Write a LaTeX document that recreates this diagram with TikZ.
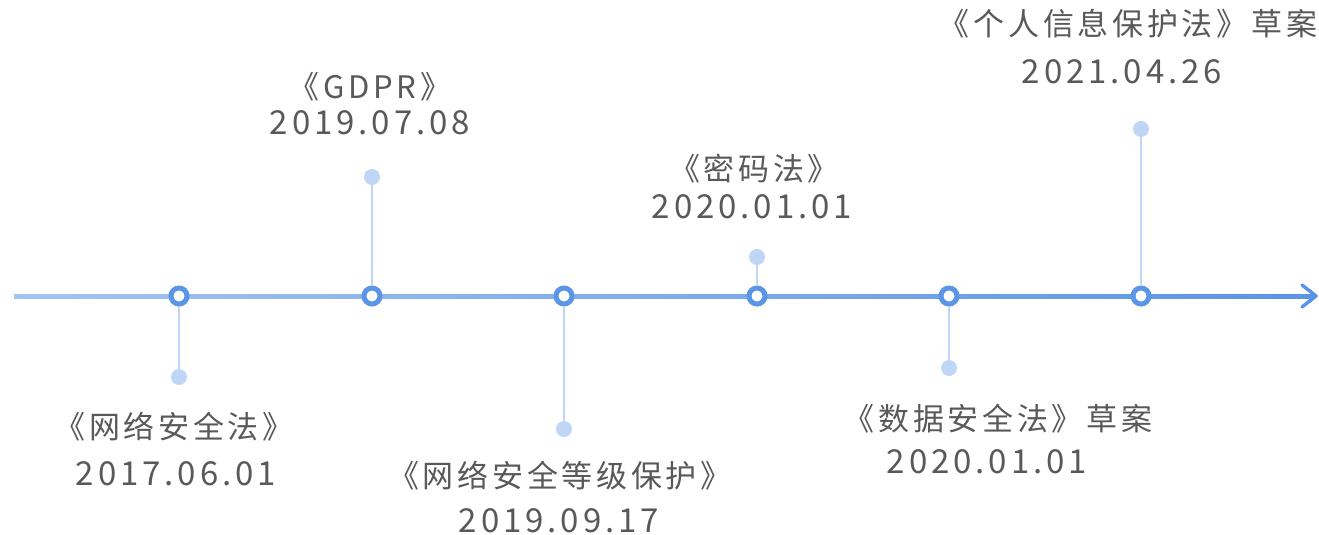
\documentclass[tikz,border=0pt]{standalone}
\usepackage{fontspec}
\setmainfont{Noto Sans CJK SC}
\newfontfamily\cjkfont[LetterSpace=12]{Noto Sans CJK SC}
\newfontfamily\datefont[LetterSpace=12]{Noto Sans CJK SC}
\definecolor{axisL}{HTML}{A3C3F1}
\definecolor{axisR}{HTML}{5B94E6}
\definecolor{ringc}{HTML}{5B95E6}
\definecolor{dotc}{HTML}{BFD6F6}
\definecolor{txt}{HTML}{595959}
\tikzset{
  ring/.style={circle, draw=ringc, fill=white, line width=5pt, minimum size=16pt, inner sep=0pt},
  pin/.style={circle, fill=dotc, minimum size=16pt, inner sep=0pt},
  stem/.style={draw=dotc, line width=2.5pt},
  title/.style={inner sep=0pt, text=txt, font=\cjkfont\fontsize{31}{35}\selectfont, text height=0.8em, text depth=0.1em},
  date/.style={inner sep=0pt, text=txt, font=\datefont\fontsize{33}{38}\selectfont, text height=0.73em, text depth=0pt}
}
\begin{document}
\begin{tikzpicture}[x=1pt,y=-1pt]
\useasboundingbox (0,0) rectangle (1319,535);
\coordinate (axisStart) at (14,296);
\coordinate (axisEnd) at (1316,296);
\coordinate (barbTop) at (1302,285);
\coordinate (barbBot) at (1302,307);
\shade[left color=axisL, right color=axisR] (14,294) rectangle (1314,298);
\draw[axisR, line width=3.5pt, line cap=round, line join=round] (barbTop) -- (axisEnd) -- (barbBot);

% pins
\node[pin] (d1) at (179,377) {};
\node[pin] (d2) at (372,177) {};
\node[pin] (d3) at (564,429) {};
\node[pin] (d4) at (757,257) {};
\node[pin] (d5) at (949,368) {};
\node[pin] (d6) at (1141,129) {};
% rings
\node[ring] (c1) at (179,296) {};
\node[ring] (c2) at (372,296) {};
\node[ring] (c3) at (564,296) {};
\node[ring] (c4) at (757,296) {};
\node[ring] (c5) at (949,296) {};
\node[ring] (c6) at (1141,296) {};
\foreach \i in {1,...,6} \draw[stem] (c\i) -- (d\i);

% labels
\node[title] (t1) at (174,435) {《网络安全法》};
\node[date]  (s1) at (176,482) {2017.06.01};
\node[title] (t2) at (370,95) {《GDPR》};
\node[date]  (s2) at (370,131) {2019.07.08};
\node[title] (t3) at (560,484) {《网络安全等级保护》};
\node[date]  (s3) at (559,529) {2019.09.17};
\node[title] (t4) at (754,177) {《密码法》};
\node[date]  (s4) at (752,215) {2020.01.01};
\node[title] (t5) at (998,427) {《数据安全法》草案};
\node[date]  (s5) at (987,470) {2020.01.01};
\node[title] (t6) at (1128,32) {《个人信息保护法》草案};
\node[date]  (s6) at (1122,80) {2021.04.26};
\end{tikzpicture}
\end{document}
